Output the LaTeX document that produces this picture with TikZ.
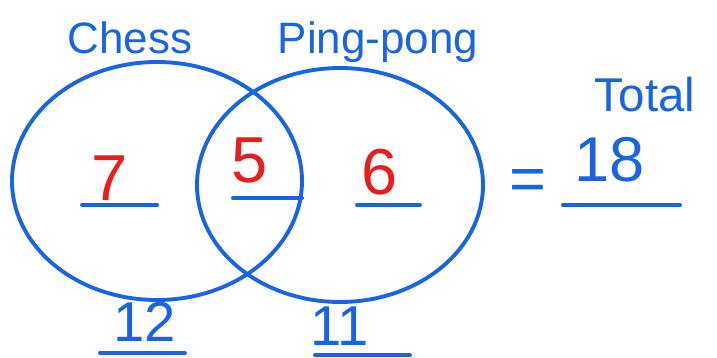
\documentclass[tikz,border=0pt]{standalone}
\usepackage{fontspec}
\setmainfont{Liberation Sans}
\definecolor{penna}{RGB}{25,100,225}
\definecolor{rosso}{RGB}{230,30,30}
\tikzset{
  tratto/.style={penna, line width=2.2pt, line cap=round},
  scritta/.style={penna, font=\fontsize{25}{28}\selectfont},
  cifra/.style={rosso, font=\fontsize{37}{40}\selectfont},
  somma/.style={penna, font=\fontsize{36}{40}\selectfont},
  parziale/.style={penna, font=\fontsize{32}{36}\selectfont}
}
\begin{document}
\begin{tikzpicture}
  \useasboundingbox (0,0) rectangle (14.34,7.16);

  %–– Insiemi ––
  % Chess
  \draw[tratto] (3.14,3.54) ellipse [x radius=2.9, y radius=2.38];
  % Ping-pong
  \draw[tratto] (6.8,3.46) ellipse [x radius=2.86, y radius=2.34];

  %–– Etichette ––
  \node[scritta] (chess) at (2.6,6.4) {Chess};
  \node[scritta] (pingpong) at (7.56,6.32) {Ping-pong};
  \node[scritta, font=\fontsize{27}{30}\selectfont] (totale) at (12.9,5.26) {Total};

  %–– Valori ––
  \node[cifra] (solochess) at (2.2,3.6) {7};
  \node[cifra] (entrambi) at (5.0,3.96) {5};
  \node[cifra] (soloping) at (7.6,3.72) {6};
  \node[somma] (uguale) at (10.56,3.46) {=};
  \node[somma] (tot) at (12.2,3.96) {18};
  \node[parziale] (totchess) at (2.9,0.72) {12};
  \node[parziale] (totping) at (6.8,0.64) {11};

  %–– Sottolineature ––
  \draw[tratto] (1.64,3.06) -- (3.14,3.06);
  \draw[tratto] (4.66,3.2) -- (6.04,3.2);
  \draw[tratto] (7.14,3.06) -- (8.4,3.06);
  \draw[tratto] (11.26,3.06) -- (13.6,3.06);
  \draw[tratto] (2.0,0.1) -- (3.7,0.1);
  \draw[tratto] (6.3,0.06) -- (8.2,0.06);
\end{tikzpicture}
\end{document}
